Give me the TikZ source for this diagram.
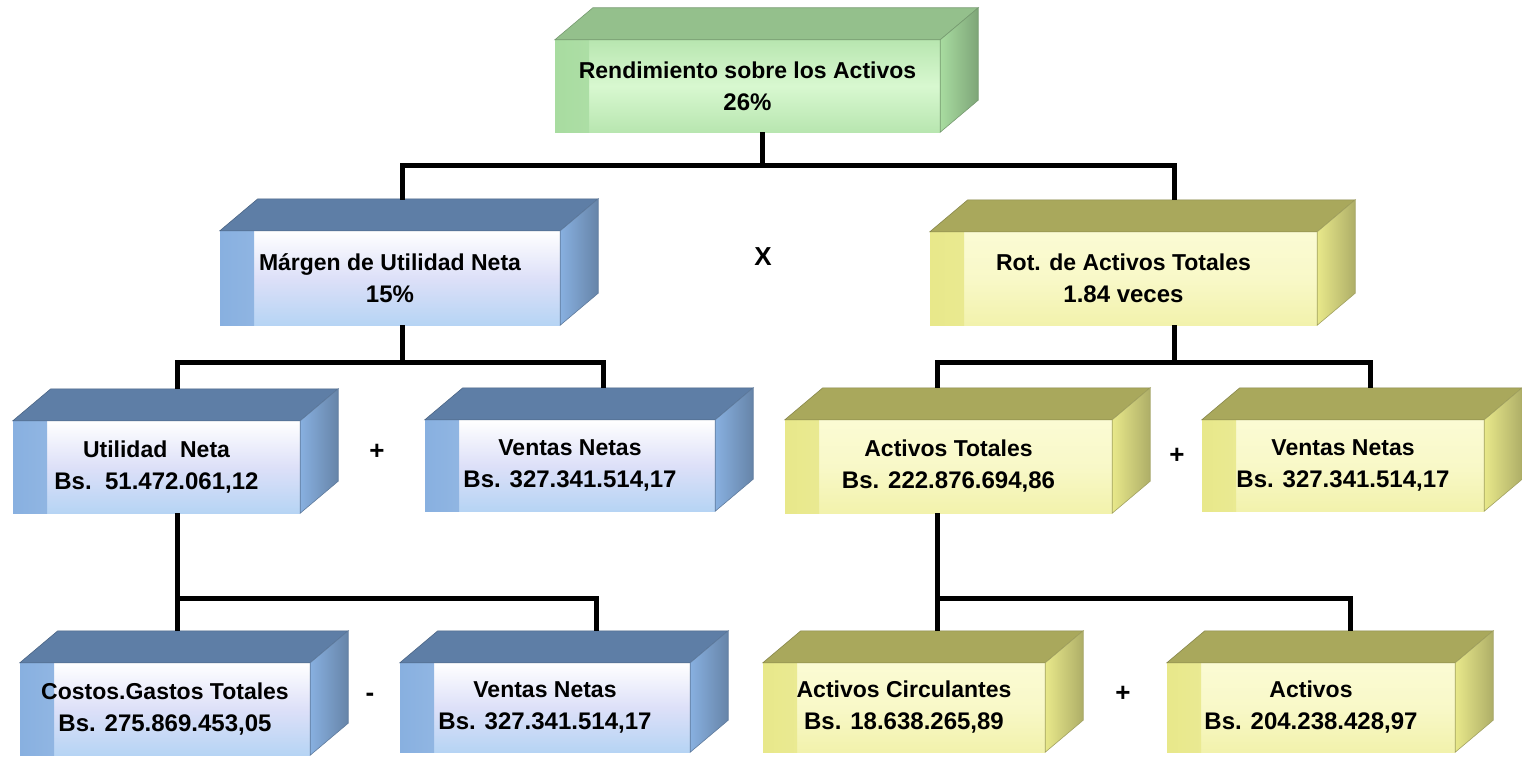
\documentclass[tikz,border=0pt]{standalone}
\usepackage{fontspec}
\setmainfont{Liberation Sans}
\begin{document}
\begin{tikzpicture}[x=1pt,y=-1pt]
% palettes
\definecolor{grTop}{HTML}{94C08C}
\definecolor{grSide}{HTML}{A8DCA0}
\definecolor{grHi}{HTML}{D8F8D0}
\definecolor{grLo}{HTML}{B8E6B0}
\definecolor{bcTop}{HTML}{5E7EA6}
\definecolor{bcSide}{HTML}{88B0E0}
\definecolor{bcMid}{HTML}{DDE0F8}
\definecolor{bcLo}{HTML}{B6D4F4}
\definecolor{ywTop}{HTML}{A9A85C}
\definecolor{ywSide}{HTML}{E8E88A}
\definecolor{ywHi}{HTML}{FBFBD4}
\definecolor{ywLo}{HTML}{F2F2AC}
\tikzset{
  face/.style={inner sep=0pt, align=center, text=black,
    font=\fontsize{24}{32}\selectfont\bfseries},
  strip/.style={path picture={\shade[left color=#1, right color=#1!40!white]
      (path picture bounding box.north west) rectangle
      ([xshift=34pt]path picture bounding box.south west);}},
  greenbox/.style={face, top color=grLo, bottom color=grLo, middle color=grHi, strip=grSide},
  bluebox/.style={face, top color=white, bottom color=bcLo, middle color=bcMid, strip=bcSide},
  yellowbox/.style={face, top color=ywHi, bottom color=ywLo, middle color=ywHi!70!ywLo, strip=ywSide},
  link/.style={draw=black, line width=5pt, line join=miter, line cap=butt},
  op/.style={font=\fontsize{26}{30}\selectfont\bfseries, inner sep=0pt}
}
% top and right faces of a bevelled box
\newcommand\boxsides[3]{%
  \fill[#2, draw=#2!80!black, line width=0.6pt] (#1.north west) -- ++(38,-32)
    -- ([shift={(38,-32)}]#1.north east) -- (#1.north east) -- cycle;
  \shade[left color=#3, right color=#3!75!black, draw=#3!70!black, line width=0.6pt]
    (#1.north east) -- ++(38,-32)
    -- ([shift={(38,-32)}]#1.south east) -- (#1.south east) -- cycle;}
\newcommand\ttl[1]{{\fontsize{23}{32}\selectfont #1}}

\fill[white] (0,0) rectangle (1522,757);
\useasboundingbox (0,0) rectangle (1522,757);

% level 1
\node[greenbox, minimum width=385, minimum height=92] (roa) at (747.5,86)
  {\ttl{Rendimiento sobre los Activos}\\26\%};
\boxsides{roa}{grTop}{grSide}

% level 2
\node[bluebox, minimum width=340, minimum height=94] (mun) at (390,278)
  {\ttl{Márgen de Utilidad Neta}\\15\%};
\boxsides{mun}{bcTop}{bcSide}
\node[yellowbox, minimum width=387, minimum height=93] (rat) at (1123.5,278.5)
  {\ttl{Rot. de Activos Totales}\\1.84 veces};
\boxsides{rat}{ywTop}{ywSide}

% level 3
\node[bluebox, minimum width=287, minimum height=92] (un) at (156.5,467)
  {\ttl{Utilidad\ \ Neta}\\Bs.\ \ 51.472.061,12};
\boxsides{un}{bcTop}{bcSide}
\node[bluebox, minimum width=290, minimum height=91] (vn1) at (570,465.5)
  {\ttl{Ventas Netas}\\Bs. 327.341.514,17};
\boxsides{vn1}{bcTop}{bcSide}
\node[yellowbox, minimum width=327, minimum height=93] (at) at (948.5,466.5)
  {\ttl{Activos Totales}\\Bs. 222.876.694,86};
\boxsides{at}{ywTop}{ywSide}
\node[yellowbox, minimum width=282, minimum height=91] (vn2) at (1343,465.5)
  {\ttl{Ventas Netas}\\Bs. 327.341.514,17};
\boxsides{vn2}{ywTop}{ywSide}

% level 4
\node[bluebox, minimum width=290, minimum height=92] (cgt) at (165,709)
  {\ttl{Costos.Gastos Totales}\\Bs. 275.869.453,05};
\boxsides{cgt}{bcTop}{bcSide}
\node[bluebox, minimum width=290, minimum height=89] (vn3) at (545,707.5)
  {\ttl{Ventas Netas}\\Bs. 327.341.514,17};
\boxsides{vn3}{bcTop}{bcSide}
\node[yellowbox, minimum width=282, minimum height=89] (ac) at (904,707.5)
  {\ttl{Activos Circulantes}\\Bs. 18.638.265,89};
\boxsides{ac}{ywTop}{ywSide}
\node[yellowbox, minimum width=288, minimum height=89] (af) at (1311,707.5)
  {\ttl{Activos}\\Bs. 204.238.428,97};
\boxsides{af}{ywTop}{ywSide}

% operators
\node[op] (times) at (763,257) {X};
\node[op] (plus1) at (377,452) {+};
\node[op] (plus2) at (1177,456) {+};
\node[op] (minus) at (370,697) {-};
\node[op] (plus3) at (1123,694) {+};

% tree connectors
\draw[link] ([xshift=14.5]roa.south) -- ++(0,33) coordinate (j0);
\draw[link] ([shift={(12,-31)}]mun.north) |- (j0) -| ([shift={(50.5,-32)}]rat.north);

\draw[link] ([xshift=12]mun.south) -- ++(0,37) coordinate (j1);
\draw[link] ([shift={(20.5,-32)}]un.north) |- (j1) -| ([shift={(33,-32)}]vn1.north);

\draw[link] ([xshift=50.5]rat.south) -- ++(0,37) coordinate (j2);
\draw[link] ([shift={(-11.5,-32)}]at.north) |- (j2) -| ([shift={(27,-32)}]vn2.north);

\draw[link] ([xshift=20.5]un.south) -- ([shift={(12,-32)}]cgt.north);
\draw[link] ([shift={(51,-32)}]vn3.north) |- ([shift={(20.5,85)}]un.south);

\draw[link] ([xshift=-11.5]at.south) -- ([shift={(33,-32)}]ac.north);
\draw[link] ([shift={(39,-32)}]af.north) |- ([shift={(-11.5,85)}]at.south);
\end{tikzpicture}
\end{document}
